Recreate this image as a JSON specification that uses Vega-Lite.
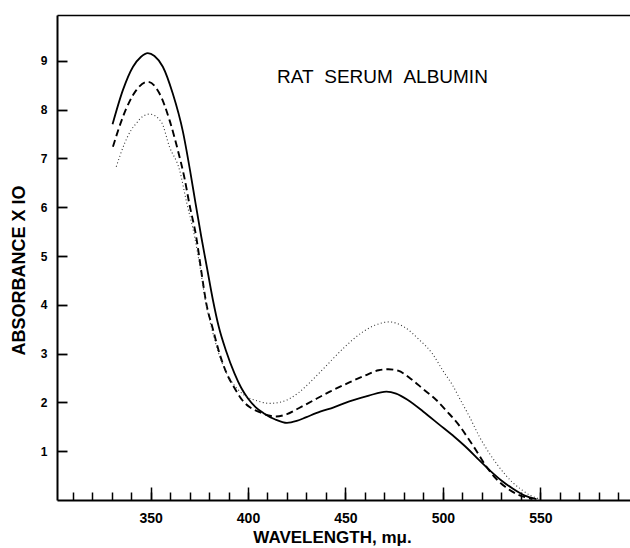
{
  "$schema": "https://vega.github.io/schema/vega-lite/v6.json",
  "width": 573,
  "height": 485,
  "autosize": "none",
  "padding": {"left": 57, "top": 15, "right": 0, "bottom": 48},
  "background": "white",
  "config": {
    "view": {"stroke": null},
    "axis": {"domainColor": "black", "tickColor": "black", "labelColor": "black", "titleColor": "black", "grid": false, "labelFont": "Liberation Sans", "titleFont": "Liberation Sans"}
  },
  "datasets": {
    "curves": [
      {"wl": 330.5, "a": 7.7, "s": "solid"},
      {"wl": 335.8, "a": 8.4, "s": "solid"},
      {"wl": 341, "a": 8.88, "s": "solid"},
      {"wl": 345, "a": 9.08, "s": "solid"},
      {"wl": 348.6, "a": 9.16, "s": "solid"},
      {"wl": 352, "a": 9.1, "s": "solid"},
      {"wl": 356.3, "a": 8.88, "s": "solid"},
      {"wl": 361.4, "a": 8.33, "s": "solid"},
      {"wl": 366.6, "a": 7.55, "s": "solid"},
      {"wl": 370.5, "a": 6.7, "s": "solid"},
      {"wl": 373, "a": 6.1, "s": "solid"},
      {"wl": 376, "a": 5.4, "s": "solid"},
      {"wl": 379, "a": 4.75, "s": "solid"},
      {"wl": 382, "a": 4.1, "s": "solid"},
      {"wl": 385, "a": 3.55, "s": "solid"},
      {"wl": 388.8, "a": 3.05, "s": "solid"},
      {"wl": 393, "a": 2.6, "s": "solid"},
      {"wl": 396.5, "a": 2.3, "s": "solid"},
      {"wl": 400, "a": 2.08, "s": "solid"},
      {"wl": 404, "a": 1.9, "s": "solid"},
      {"wl": 408, "a": 1.78, "s": "solid"},
      {"wl": 414, "a": 1.65, "s": "solid"},
      {"wl": 420, "a": 1.58, "s": "solid"},
      {"wl": 425, "a": 1.62, "s": "solid"},
      {"wl": 430, "a": 1.7, "s": "solid"},
      {"wl": 437, "a": 1.81, "s": "solid"},
      {"wl": 444, "a": 1.9, "s": "solid"},
      {"wl": 452, "a": 2.02, "s": "solid"},
      {"wl": 462, "a": 2.14, "s": "solid"},
      {"wl": 471, "a": 2.22, "s": "solid"},
      {"wl": 476, "a": 2.18, "s": "solid"},
      {"wl": 482, "a": 2.05, "s": "solid"},
      {"wl": 490, "a": 1.81, "s": "solid"},
      {"wl": 498, "a": 1.55, "s": "solid"},
      {"wl": 506, "a": 1.29, "s": "solid"},
      {"wl": 513, "a": 1.04, "s": "solid"},
      {"wl": 519, "a": 0.8, "s": "solid"},
      {"wl": 524, "a": 0.61, "s": "solid"},
      {"wl": 530, "a": 0.4, "s": "solid"},
      {"wl": 535.6, "a": 0.24, "s": "solid"},
      {"wl": 542, "a": 0.09, "s": "solid"},
      {"wl": 548, "a": 0.02, "s": "solid"},

      {"wl": 330.7, "a": 7.24, "s": "dashed"},
      {"wl": 335.8, "a": 7.85, "s": "dashed"},
      {"wl": 339, "a": 8.15, "s": "dashed"},
      {"wl": 342.7, "a": 8.4, "s": "dashed"},
      {"wl": 348.6, "a": 8.57, "s": "dashed"},
      {"wl": 354.6, "a": 8.33, "s": "dashed"},
      {"wl": 359.7, "a": 7.79, "s": "dashed"},
      {"wl": 364, "a": 7.17, "s": "dashed"},
      {"wl": 367.4, "a": 6.6, "s": "dashed"},
      {"wl": 370, "a": 6.05, "s": "dashed"},
      {"wl": 373.4, "a": 5.4, "s": "dashed"},
      {"wl": 376, "a": 4.7, "s": "dashed"},
      {"wl": 378.5, "a": 4.05, "s": "dashed"},
      {"wl": 382, "a": 3.5, "s": "dashed"},
      {"wl": 385.4, "a": 3.0, "s": "dashed"},
      {"wl": 389, "a": 2.6, "s": "dashed"},
      {"wl": 393, "a": 2.3, "s": "dashed"},
      {"wl": 397, "a": 2.05, "s": "dashed"},
      {"wl": 401, "a": 1.9, "s": "dashed"},
      {"wl": 406, "a": 1.8, "s": "dashed"},
      {"wl": 410, "a": 1.74, "s": "dashed"},
      {"wl": 414.4, "a": 1.71, "s": "dashed"},
      {"wl": 420, "a": 1.76, "s": "dashed"},
      {"wl": 426, "a": 1.88, "s": "dashed"},
      {"wl": 433, "a": 2.03, "s": "dashed"},
      {"wl": 442, "a": 2.22, "s": "dashed"},
      {"wl": 452, "a": 2.41, "s": "dashed"},
      {"wl": 460, "a": 2.55, "s": "dashed"},
      {"wl": 467, "a": 2.66, "s": "dashed"},
      {"wl": 472, "a": 2.68, "s": "dashed"},
      {"wl": 477, "a": 2.65, "s": "dashed"},
      {"wl": 484, "a": 2.47, "s": "dashed"},
      {"wl": 490, "a": 2.27, "s": "dashed"},
      {"wl": 496.6, "a": 2.05, "s": "dashed"},
      {"wl": 502, "a": 1.82, "s": "dashed"},
      {"wl": 508.5, "a": 1.52, "s": "dashed"},
      {"wl": 513, "a": 1.26, "s": "dashed"},
      {"wl": 517, "a": 1.02, "s": "dashed"},
      {"wl": 522, "a": 0.7, "s": "dashed"},
      {"wl": 527, "a": 0.45, "s": "dashed"},
      {"wl": 532, "a": 0.27, "s": "dashed"},
      {"wl": 538, "a": 0.12, "s": "dashed"},
      {"wl": 546, "a": 0.02, "s": "dashed"},

      {"wl": 332.4, "a": 6.83, "s": "dotted"},
      {"wl": 336.7, "a": 7.31, "s": "dotted"},
      {"wl": 340, "a": 7.58, "s": "dotted"},
      {"wl": 342.7, "a": 7.72, "s": "dotted"},
      {"wl": 346, "a": 7.86, "s": "dotted"},
      {"wl": 349.5, "a": 7.91, "s": "dotted"},
      {"wl": 355.5, "a": 7.75, "s": "dotted"},
      {"wl": 359.7, "a": 7.24, "s": "dotted"},
      {"wl": 364.9, "a": 6.76, "s": "dotted"},
      {"wl": 368.5, "a": 6.1, "s": "dotted"},
      {"wl": 372.6, "a": 5.4, "s": "dotted"},
      {"wl": 375.5, "a": 4.75, "s": "dotted"},
      {"wl": 378.3, "a": 4.05, "s": "dotted"},
      {"wl": 381.5, "a": 3.5, "s": "dotted"},
      {"wl": 385, "a": 3.0, "s": "dotted"},
      {"wl": 389, "a": 2.6, "s": "dotted"},
      {"wl": 393, "a": 2.35, "s": "dotted"},
      {"wl": 398, "a": 2.15, "s": "dotted"},
      {"wl": 405, "a": 2.03, "s": "dotted"},
      {"wl": 411, "a": 1.98, "s": "dotted"},
      {"wl": 416, "a": 2.0, "s": "dotted"},
      {"wl": 421, "a": 2.07, "s": "dotted"},
      {"wl": 426, "a": 2.2, "s": "dotted"},
      {"wl": 431, "a": 2.38, "s": "dotted"},
      {"wl": 437, "a": 2.62, "s": "dotted"},
      {"wl": 443, "a": 2.87, "s": "dotted"},
      {"wl": 450, "a": 3.15, "s": "dotted"},
      {"wl": 458.7, "a": 3.44, "s": "dotted"},
      {"wl": 465, "a": 3.58, "s": "dotted"},
      {"wl": 472.6, "a": 3.65, "s": "dotted"},
      {"wl": 480, "a": 3.55, "s": "dotted"},
      {"wl": 488, "a": 3.28, "s": "dotted"},
      {"wl": 494.6, "a": 3.0, "s": "dotted"},
      {"wl": 500, "a": 2.65, "s": "dotted"},
      {"wl": 505, "a": 2.35, "s": "dotted"},
      {"wl": 509, "a": 2.05, "s": "dotted"},
      {"wl": 513.6, "a": 1.71, "s": "dotted"},
      {"wl": 518.7, "a": 1.3, "s": "dotted"},
      {"wl": 523.8, "a": 0.96, "s": "dotted"},
      {"wl": 528, "a": 0.72, "s": "dotted"},
      {"wl": 532, "a": 0.52, "s": "dotted"},
      {"wl": 536, "a": 0.35, "s": "dotted"},
      {"wl": 540.8, "a": 0.2, "s": "dotted"},
      {"wl": 545, "a": 0.09, "s": "dotted"},
      {"wl": 550, "a": 0.02, "s": "dotted"}
    ],
    "label": [
      {"wl": 469, "a": 8.55, "t": "RAT\u00a0\u00a0SERUM\u00a0\u00a0ALBUMIN"}
    ]
  },
  "layer": [
    {
      "data": {"name": "curves"},
      "transform": [{"filter": "datum.s === 'solid'"}],
      "mark": {"type": "line", "color": "black", "strokeWidth": 1.8, "interpolate": "monotone"},
      "encoding": {
        "x": {
          "field": "wl", "type": "quantitative",
          "scale": {"domain": [302, 596], "nice": false, "zero": false},
          "axis": {
            "orient": "bottom", "values": [350, 400, 450, 500, 550],
            "tickSize": -13, "tickWidth": 1.5, "labelPadding": 24,
            "labelFontSize": 14, "labelFontWeight": "bold", "labelBaseline": "top",
            "domainWidth": 2,
            "title": "WAVELENGTH, mμ.", "titleFontSize": 17, "titleFontWeight": "bold",
            "titleX": 275, "titleY": 42, "titleBaseline": "alphabetic", "titleAlign": "center"
          }
        },
        "y": {
          "field": "a", "type": "quantitative",
          "scale": {"domain": [0, 9.94], "nice": false, "zero": false},
          "axis": {
            "values": [1, 2, 3, 4, 5, 6, 7, 8, 9],
            "tickSize": -10, "tickWidth": 1.8, "labelPadding": 20,
            "labelFontSize": 12, "labelFontWeight": "bold",
            "domainWidth": 2,
            "title": "ABSORBANCE X IO", "titleFontSize": 18, "titleFontWeight": "bold",
            "titleX": -38, "titleY": 255, "titleAngle": -90, "titleBaseline": "middle", "titleAlign": "center"
          }
        }
      }
    },
    {
      "data": {"name": "curves"},
      "transform": [{"filter": "datum.s === 'dashed'"}],
      "mark": {"type": "line", "color": "black", "strokeWidth": 1.9, "strokeDash": [7, 4], "interpolate": "monotone"},
      "encoding": {
        "x": {
          "field": "wl", "type": "quantitative",
          "scale": {"domain": [302, 596], "nice": false, "zero": false},
          "axis": {
            "orient": "bottom",
            "values": [310, 320, 330, 340, 350, 360, 370, 380, 390, 400, 410, 420, 430, 440, 450, 460, 470, 480, 490, 500, 510, 520, 530, 540, 550, 560, 570, 580, 590],
            "tickSize": -8, "tickWidth": 1.5, "labels": false, "domain": false, "title": null
          }
        },
        "y": {"field": "a", "type": "quantitative", "scale": {"domain": [0, 9.94], "nice": false, "zero": false}, "axis": null}
      }
    },
    {
      "data": {"name": "curves"},
      "transform": [{"filter": "datum.s === 'dotted'"}],
      "mark": {"type": "line", "color": "#333333", "strokeWidth": 1.1, "strokeDash": [1, 2.5], "interpolate": "monotone"},
      "encoding": {
        "x": {
          "field": "wl", "type": "quantitative",
          "scale": {"domain": [302, 596], "nice": false, "zero": false},
          "axis": {"orient": "top", "ticks": false, "labels": false, "domain": true, "domainWidth": 1.5, "title": null}
        },
        "y": {"field": "a", "type": "quantitative", "scale": {"domain": [0, 9.94], "nice": false, "zero": false}, "axis": null}
      }
    },
    {
      "data": {"name": "label"},
      "mark": {"type": "text", "font": "Liberation Sans", "fontSize": 19, "align": "center", "baseline": "alphabetic", "color": "black"},
      "encoding": {
        "x": {"field": "wl", "type": "quantitative", "scale": {"domain": [302, 596], "nice": false, "zero": false}, "axis": null},
        "y": {"field": "a", "type": "quantitative", "scale": {"domain": [0, 9.94], "nice": false, "zero": false}, "axis": null},
        "text": {"field": "t"}
      }
    }
  ],
  "resolve": {"axis": {"x": "independent", "y": "independent"}}
}
